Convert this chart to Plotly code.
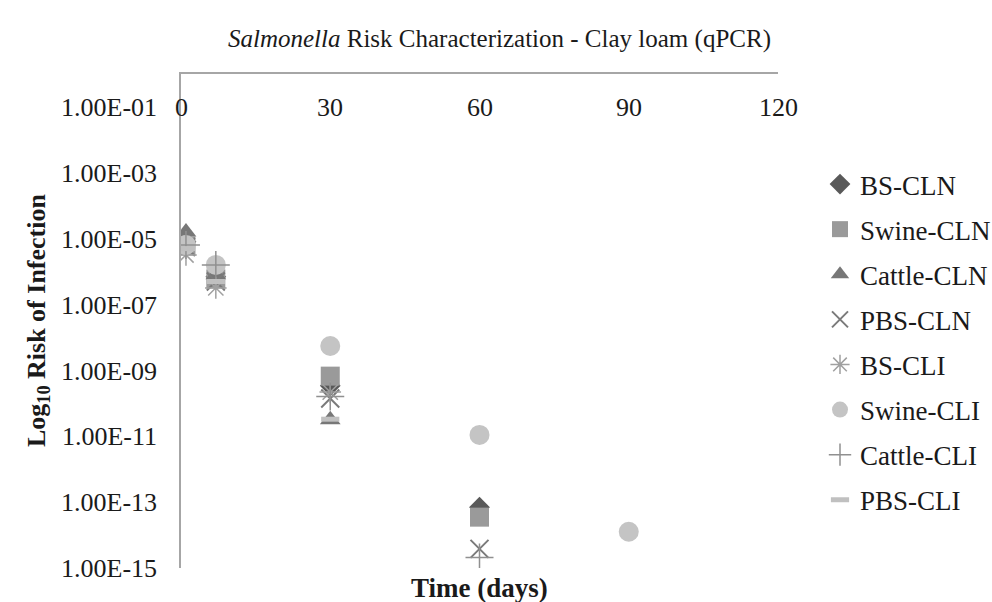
import plotly.graph_objects as go

days = [1, 7, 30, 60, 90]
series_names = ["BS-CLN", "Swine-CLN", "Cattle-CLN", "PBS-CLN",
                "BS-CLI", "Swine-CLI", "Cattle-CLI", "PBS-CLI"]
bs_cln = [8e-6, 7e-7, 3.4e-10, 7e-14, None]
swine_cln = [6e-6, 6e-7, 6.7e-10, 3.5e-14, None]
cattle_cln = [1.6e-5, 8e-7, 3.2e-11, None, None]
pbs_cln = [5.6e-6, 5e-7, 1.4e-10, 3.8e-15, None]
bs_cli = [3.2e-6, 3.2e-7, 2.2e-10, None, None]
swine_cli = [6.4e-6, 1.6e-6, 5.5e-9, 1.1e-11, 1.26e-14]
cattle_cli = [6.4e-6, 1.6e-6, 1.6e-10, 2.1e-15, None]
pbs_cli = [5e-6, 5e-7, 3.3e-11, None, None]

y_tick_vals = [1e-15, 1e-13, 1e-11, 1e-9, 1e-7, 1e-5, 1e-3, 1e-1]
y_tick_text = ["1.00E-15", "1.00E-13", "1.00E-11", "1.00E-09",
               "1.00E-07", "1.00E-05", "1.00E-03", "1.00E-01"]
x_tick_vals = [0, 30, 60, 90, 120]
x_tick_text = ["0", "30", "60", "90", "120"]

values = [bs_cln, swine_cln, cattle_cln, pbs_cln, bs_cli, swine_cli, cattle_cli, pbs_cli]
styles = [
    dict(symbol="diamond", size=16, color="#595959", lw=0),
    dict(symbol="square", size=19, color="#9a9a9a", lw=0),
    dict(symbol="triangle-up", size=18, color="#777777", lw=0),
    dict(symbol="x-thin-open", size=18, color="#7a7a7a", lw=2),
    dict(symbol="asterisk-open", size=18, color="#a0a0a0", lw=1.5),
    dict(symbol="circle", size=20, color="#c4c4c4", lw=0),
    dict(symbol="cross-thin-open", size=20, color="#909090", lw=1.5),
    dict(symbol="line-ew-open", size=13, color="#c0c0c0", lw=5),
]

FONT = "Liberation Serif"
TXT = "#1a1a1a"
fig = go.Figure()
for name, vals, st in zip(series_names, values, styles):
    marker = dict(symbol=st["symbol"], size=st["size"], color=st["color"])
    if st["lw"]:
        marker["line"] = dict(width=st["lw"], color=st["color"])
    else:
        marker["line"] = dict(width=0)
    fig.add_trace(go.Scatter(x=days, y=vals, mode="markers", name=name,
                             legendgroup=name, marker=marker))

title_text = "<i>Salmonella</i> Risk Characterization - Clay loam (qPCR)"

annotations = [
    dict(text=title_text,
         xref="paper", yref="paper", x=(499 - 181) / 597, y=(568 - 39) / 494,
         xanchor="center", yanchor="middle", showarrow=False,
         font=dict(family=FONT, size=25, color=TXT)),
    dict(text="<b>Log<sub>10</sub> Risk of Infection</b>", textangle=-90,
         xref="paper", yref="paper", x=(38 - 181) / 597, y=0.5,
         xanchor="center", yanchor="middle", showarrow=False,
         font=dict(family=FONT, size=26, color=TXT)),
    dict(text="<b>Time (days)</b>", xref="paper", yref="paper",
         x=0.5, y=(568 - 588) / 494, xanchor="center", yanchor="middle",
         showarrow=False, font=dict(family=FONT, size=27, color=TXT)),
]
for v, t in zip(x_tick_vals, x_tick_text):
    annotations.append(dict(text=t, xref="x", yref="paper", x=v,
                            y=(568 - 107) / 494, xanchor="center", yanchor="middle",
                            showarrow=False, font=dict(family=FONT, size=26, color=TXT)))

fig.update_layout(
    width=992, height=602,
    margin=dict(l=181, r=214, t=74, b=34, autoexpand=False),
    plot_bgcolor="white", paper_bgcolor="white",
    font=dict(family=FONT, size=26, color=TXT),
    showlegend=True,
    legend=dict(x=(820 - 181) / 597, xanchor="left", y=(568 - 160) / 494, yanchor="top",
                font=dict(family=FONT, size=27, color=TXT),
                tracegroupgap=7, itemsizing="trace", bgcolor="rgba(0,0,0,0)"),
    xaxis=dict(range=[0, 120], side="top", tickvals=x_tick_vals,
               showticklabels=False,
               showline=True, linecolor="#a6a6a6", linewidth=1.5,
               showgrid=False, zeroline=False, ticks=""),
    yaxis=dict(type="log", range=[-15, 0], tickvals=y_tick_vals, ticktext=y_tick_text,
               showline=True, linecolor="#a6a6a6", linewidth=1.5,
               showgrid=False, zeroline=False, ticks="", ticklabelstandoff=17,
               tickfont=dict(family=FONT, size=26, color=TXT)),
    annotations=annotations,
)

fig.write_html("out.html")
